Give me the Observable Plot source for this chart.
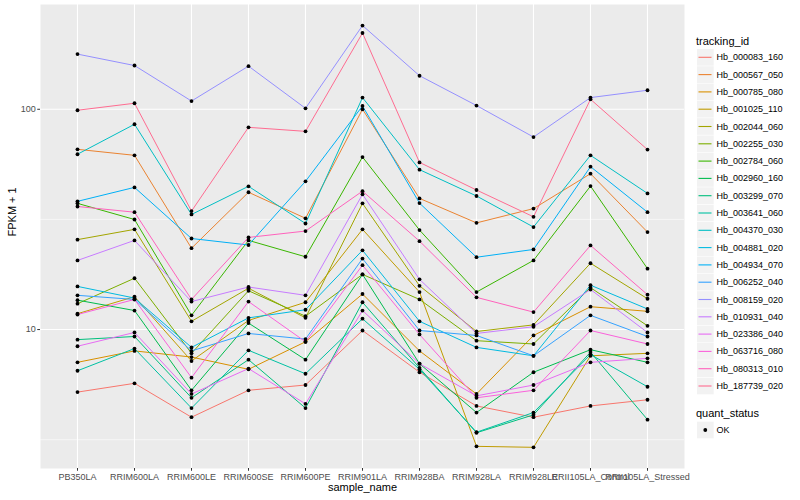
<!DOCTYPE html>
<html>
<head>
<meta charset="utf-8">
<script src="https://cdn.jsdelivr.net/npm/d3@7"></script>
<script src="https://cdn.jsdelivr.net/npm/@observablehq/plot@0.6"></script>
<style>
  body { margin: 0; background: #fff; font-family: "Liberation Sans", Arial, sans-serif; }
  #wrap { position: relative; width: 800px; height: 500px; }
  #wrap > svg { position: absolute; left: 0; top: 0; }
</style>
</head>
<body>
<div id="wrap"></div>
<script>
const samples = ["PB350LA","RRIM600LA","RRIM600LE","RRIM600SE","RRIM600PE","RRIM901LA","RRIM928BA","RRIM928LA","RRIM928LE","RRII105LA_Control","RRII105LA_Stressed"];
const trackingIds = ["Hb_000083_160","Hb_000567_050","Hb_000785_080","Hb_001025_110","Hb_002044_060","Hb_002255_030","Hb_002784_060","Hb_002960_160","Hb_003299_070","Hb_003641_060","Hb_004370_030","Hb_004881_020","Hb_004934_070","Hb_006252_040","Hb_008159_020","Hb_010931_040","Hb_023386_040","Hb_063716_080","Hb_080313_010","Hb_187739_020"];
const lineColors = ["#F8766D","#EA8331","#D89000","#C09B00","#A3A500","#7CAE00","#39B600","#00BB4E","#00BF7D","#00C1A3","#00BFC4","#00BAE0","#00B0F6","#35A2FF","#9590FF","#C77CFF","#E76BF3","#FA62DB","#FF62BC","#FF6C91"];

// FPKM + 1 per sample (order of `samples`)
const hb_000083_160 = [5.2, 5.7, 4.0, 5.3, 5.6, 9.9, 6.4, 4.5, 4.0, 4.5, 4.8];
const hb_000567_050 = [65.8, 61.8, 23.4, 42.0, 32.0, 100, 39.4, 30.5, 35.4, 51.0, 27.7];
const hb_000785_080 = [7.1, 8.0, 7.5, 6.6, 8.8, 14.5, 8.0, 5.1, 9.4, 12.7, 12.1];
const hb_001025_110 = [11.8, 14.1, 7.2, 11.0, 13.3, 28.5, 14.8, 2.95, 2.92, 7.6, 7.8];
const hb_002044_060 = [25.6, 28.5, 10.9, 15.4, 11.3, 37.4, 15.8, 9.8, 10.5, 20.0, 13.8];
const hb_002255_030 = [13.1, 17.1, 7.8, 15.0, 11.5, 17.8, 13.7, 8.9, 8.6, 15.5, 10.4];
const hb_002784_060 = [37.4, 31.6, 11.6, 25.4, 21.4, 60.7, 28.3, 14.8, 20.6, 44.8, 18.9];
const hb_002960_160 = [13.6, 12.2, 5.3, 10.7, 7.3, 17.8, 7.0, 4.2, 6.4, 8.1, 7.1];
const hb_003299_070 = [9.0, 9.3, 4.9, 7.3, 4.4, 13.3, 6.7, 3.4, 4.1, 7.9, 3.9];
const hb_003641_060 = [6.5, 8.2, 4.4, 8.05, 6.3, 11.2, 6.6, 3.42, 4.2, 7.7, 5.5];
const hb_004370_030 = [62.5, 85.5, 33.3, 44.7, 30.3, 113, 53.2, 40.4, 29.2, 61.8, 41.5];
const hb_004881_020 = [15.7, 13.9, 8.3, 11.3, 12.3, 22.9, 10.9, 8.3, 7.6, 15.9, 12.4];
const hb_004934_070 = [38.2, 44.2, 25.9, 24.2, 47.1, 103.5, 37.5, 21.3, 23.1, 54.9, 34.1];
const hb_006252_040 = [14.3, 13.7, 8.0, 9.6, 9.05, 21.0, 9.9, 9.4, 7.6, 11.6, 9.3];
const hb_008159_020 = [178, 158, 109, 157, 101, 240, 142, 104, 74.8, 113, 122];
const hb_010931_040 = [20.6, 25.4, 13.4, 15.6, 14.3, 41.1, 16.9, 9.6, 10.3, 15.2, 9.7];
const hb_023386_040 = [8.4, 9.7, 5.1, 6.65, 4.6, 12.2, 7.0, 5.0, 5.6, 7.1, 7.4];
const hb_063716_080 = [11.7, 13.7, 6.05, 13.4, 8.8, 19.6, 9.5, 4.9, 5.3, 9.9, 8.6];
const hb_080313_010 = [36.2, 34.1, 13.7, 26.2, 28.0, 42.5, 25.2, 14.0, 12.0, 24.1, 14.4];
const hb_187739_020 = [99, 106.5, 34.5, 82.8, 79.4, 222, 57.4, 43.0, 32.5, 111, 65.6];

const seriesValues = [hb_000083_160, hb_000567_050, hb_000785_080, hb_001025_110, hb_002044_060,
  hb_002255_030, hb_002784_060, hb_002960_160, hb_003299_070, hb_003641_060, hb_004370_030,
  hb_004881_020, hb_004934_070, hb_006252_040, hb_008159_020, hb_010931_040, hb_023386_040,
  hb_063716_080, hb_080313_010, hb_187739_020];

const quantStatus = ["OK"];
const yTicks = [10, 100];
const yMinorBreaks = [Math.sqrt(10), Math.sqrt(1000)];

const rows = [];
trackingIds.forEach((id, i) => samples.forEach((s, j) => rows.push({ id, sample: s, value: seriesValues[i][j], status: quantStatus[0] })));

const font = '"Liberation Sans", Arial, sans-serif';

const chart = Plot.plot({
  width: 800, height: 500,
  marginLeft: 40, marginRight: 116, marginTop: 4, marginBottom: 32,
  style: { fontFamily: font, background: "white", overflow: "visible" },
  x: { type: "point", domain: samples, padding: 0.6 },
  y: { type: "log", domain: [2.34, 299] },
  color: { domain: trackingIds, range: lineColors },
  marks: [
    Plot.frame({ fill: "#EBEBEB", stroke: "none" }),
    Plot.ruleY(yMinorBreaks, { stroke: "white", strokeWidth: 0.55 }),
    Plot.ruleY(yTicks, { stroke: "white", strokeWidth: 1.1 }),
    Plot.ruleX(samples, { stroke: "white", strokeWidth: 1.1 }),
    Plot.line(rows, { x: "sample", y: "value", z: "id", stroke: "id", strokeWidth: 1 }),
    Plot.dot(rows, { x: "sample", y: "value", r: 1.9, fill: "black", stroke: "none" }),
    Plot.axisX({ tickSize: 2.75, tickPadding: 2, fontSize: 9, stroke: "#333333", fill: "#4D4D4D", label: null }),
    Plot.axisY({ ticks: yTicks, tickFormat: d => String(d), tickSize: 2.75, tickPadding: 2, fontSize: 9, stroke: "#333333", fill: "#4D4D4D", label: null }),
    Plot.text(["sample_name"], { text: d => d, frameAnchor: "bottom", dy: 22, fontSize: 11, fill: "black" }),
    Plot.text(["FPKM + 1"], { text: d => d, frameAnchor: "left", dx: -28, rotate: -90, fontSize: 11, fill: "black" })
  ]
});
document.getElementById("wrap").appendChild(chart);

// Legend (right side)
const leg = d3.select("#wrap").append("svg")
  .attr("width", 800).attr("height", 500)
  .style("font-family", font)
  .style("pointer-events", "none");

leg.append("text").attr("x", 696).attr("y", 40.7).attr("dominant-baseline", "central")
  .attr("font-size", 11).attr("fill", "black").text("tracking_id");

const step = 17.3, y0 = 57.3;
trackingIds.forEach((id, i) => {
  const cy = y0 + i * step;
  leg.append("rect").attr("x", 697).attr("y", cy - step / 2 + 0.3).attr("width", 16.7).attr("height", step - 0.6).attr("fill", "#F2F2F2");
  leg.append("line").attr("x1", 698.5).attr("x2", 711.5).attr("y1", cy).attr("y2", cy)
    .attr("stroke", lineColors[i]).attr("stroke-width", 1.1);
  leg.append("text").attr("x", 716.5).attr("y", cy).attr("dominant-baseline", "central")
    .attr("font-size", 9).attr("fill", "black").text(id);
});

leg.append("text").attr("x", 696).attr("y", 413).attr("dominant-baseline", "central")
  .attr("font-size", 11).attr("fill", "black").text("quant_status");
quantStatus.forEach((s, i) => {
  const cy = 430 + i * step;
  leg.append("rect").attr("x", 697).attr("y", cy - step / 2 + 0.3).attr("width", 16.7).attr("height", step - 0.6).attr("fill", "#F2F2F2");
  leg.append("circle").attr("cx", 705.3).attr("cy", cy).attr("r", 1.9).attr("fill", "black");
  leg.append("text").attr("x", 716.5).attr("y", cy).attr("dominant-baseline", "central")
    .attr("font-size", 9).attr("fill", "black").text(s);
});
</script>
</body>
</html>
